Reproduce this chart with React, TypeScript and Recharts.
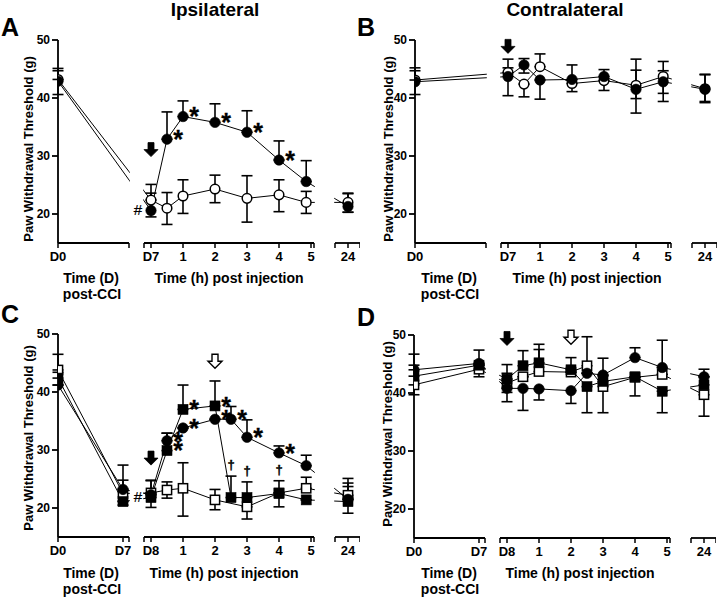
import React from 'react';
import {
  ComposedChart,
  Line,
  XAxis,
  YAxis,
  ErrorBar,
  ReferenceArea,
  ReferenceLine,
  ReferenceDot,
} from 'recharts';

const FONT = '"Liberation Sans", Arial, Helvetica, sans-serif';

// ---------- broken x-axis layout (units = px to the right of the y axis) ----------
const DAY_STEP = 65 / 7;
const HOUR0 = 93;
const HOUR_STEP = 32;
const POS_24 = 290;
const SEGMENTS: [number, number][] = [
  [0, 71],
  [86, 256],
  [277, 302],
];
const X_MAX = 302;
const xPos = (unit: string, t: number) =>
  unit === 'd' ? t * DAY_STEP : t >= 24 ? POS_24 : HOUR0 + t * HOUR_STEP;

// ---------- tick labels ----------
const tickUnitsAB = ['d', 'h', 'h', 'h', 'h', 'h', 'h', 'h'];
const tickTimesAB = [0, 0, 1, 2, 3, 4, 5, 24];
const tickLabelsAB = ['D0', 'D7', '1', '2', '3', '4', '5', '24'];
const tickUnitsCD = ['d', 'd', 'h', 'h', 'h', 'h', 'h', 'h', 'h'];
const tickTimesCD = [0, 7, 0, 1, 2, 3, 4, 5, 24];
const tickLabelsCD = ['D0', 'D7', 'D8', '1', '2', '3', '4', '5', '24'];
const yTicks = [20, 30, 40, 50];

// ---------- time points ----------
const abUnit = ['d', 'h', 'h', 'h', 'h', 'h', 'h', 'h', 'h'];
const abTime = [0, 0, 0.5, 1, 2, 3, 4, 4.85, 24];
const cdUnit = ['d', 'd', 'h', 'h', 'h', 'h', 'h', 'h', 'h', 'h', 'h'];
const cdTime = [0, 7, 0, 0.5, 1, 2, 2.5, 3, 4, 4.85, 24];
const cOpenUnit = ['d', 'd', 'h', 'h', 'h', 'h', 'h', 'h', 'h', 'h'];
const cOpenTime = [0, 7, 0, 0.5, 1, 2, 3, 4, 4.85, 24];

// ---------- Panel A (ipsilateral) ----------
const aFilled = [42.9, 20.6, 32.9, 36.8, 35.8, 34.1, 29.3, 25.6, 21.3];
const aFilledErr: [number, number][] = [[2.3, 1.8], [1.1, 3.0], [0, 4.7], [0, 2.7], [0, 3.2], [0, 3.7], [0, 3.3], [0, 3.6], [1.0, 2.2]];
const aFilledMarks = ['', '#', '*', '*', '*', '*', '*', '', ''];
const aOpen = [43.2, 22.4, 21.0, 23.1, 24.3, 22.7, 23.3, 22.0, 22.0];
const aOpenErr: [number, number][] = [[0, 1.9], [0, 2.7], [2.8, 2.7], [3.0, 2.8], [2.35, 2.4], [4.1, 3.9], [2.9, 2.6], [1.9, 1.9], [1.7, 1.6]];

// ---------- Panel B (contralateral) ----------
const bFilled = [42.8, 43.7, 45.7, 43.1, 43.2, 43.7, 41.5, 42.8, 41.5];
const bFilledErr: [number, number][] = [[2.2, 1.9], [3.3, 1.5], [1.4, 1.1], [3.3, 0], [0, 2.5], [0, 1.2], [4.1, 3.3], [3.4, 1.9], [2.3, 2.5]];
const bOpen = [43.1, 44.4, 42.4, 45.4, 42.5, 43.0, 42.2, 43.7, 41.6];
const bOpenErr: [number, number][] = [[0, 2.1], [0, 2.3], [2.2, 0], [0, 2.2], [1.4, 0], [1.7, 0], [2.3, 4.5], [2.9, 2.6], [2.2, 2.5]];

// ---------- Panel C (ipsilateral, two injections) ----------
const cCircle = [41.2, 23.2, 22.3, 31.6, 33.8, 35.3, 35.3, 32.2, 29.5, 27.3, 21.5];
const cCircleErr: [number, number][] = [[0, 0], [0, 1.6], [0, 2.5], [0, 1.3], [0, 0], [0, 0], [0, 2.2], [0, 3.0], [0, 1.2], [0, 1.8], [0, 2.8]];
const cCircleMarks = ['', '', '', '*', '*', '*', '*', '*', '*', '', ''];
const cSquare = [42.4, 21.1, 21.8, 29.9, 37.0, 37.6, 21.8, 21.8, 22.5, 21.4, 21.1];
const cSquareErr: [number, number][] = [[0, 1.0], [0.6, 0], [1.7, 0], [0, 3.0], [0, 4.2], [0, 4.3], [0, 3.7], [0, 2.7], [2.3, 2.2], [0, 0], [2.0, 2.6]];
const cSquareMarks = ['', '', '#', '*', '*', '*', '†', '†', '†', '', ''];
const cOpen = [43.8, 22.5, 22.6, 23.1, 23.4, 21.4, 20.2, 22.6, 23.4, 22.2];
const cOpenErr: [number, number][] = [[0, 2.7], [1.3, 4.9], [0, 2.1], [1.4, 1.4], [4.8, 4.4], [1.7, 1.8], [2.1, 0], [0, 0], [0, 1.9], [0, 2.9]];

// ---------- Panel D (contralateral, two injections) ----------
const dCircle = [44.0, 45.1, 40.8, 40.8, 40.7, 40.4, 43.4, 43.1, 46.1, 44.4, 42.8];
const dCircleErr: [number, number][] = [[0, 2.7], [0, 2.3], [2.3, 0], [3.8, 0], [1.9, 0], [2.2, 0], [0, 0], [0, 2.9], [0, 1.7], [0, 4.7], [0, 1.3]];
const dSquare = [42.9, 44.8, 42.4, 44.7, 45.2, 44.0, 41.1, 42.0, 42.8, 40.3, 41.4];
const dSquareErr: [number, number][] = [[0, 1.9], [0, 0], [0, 2.5], [0, 2.6], [0, 3.2], [0, 2.1], [4.5, 0], [0, 1.0], [3.3, 0], [3.7, 0], [0, 1.4]];
const dOpen = [41.4, 44.1, 41.7, 42.8, 43.7, 43.6, 44.7, 41.1, 42.7, 43.2, 39.7];
const dOpenErr: [number, number][] = [[1.7, 0], [1.3, 0], [1.6, 1.7], [0, 0], [0, 3.8], [0, 0], [0, 5.0], [4.5, 0], [0, 0], [0, 0], [3.7, 0]];

const noMarks = (n: number) => new Array(n).fill('');

type Series = {
  id: string;
  marker: 'circle' | 'square';
  filled: boolean;
  unit: string[];
  time: number[];
  values: number[];
  err: [number, number][];
  marks: string[];
};
type Arrow = { unit: string; t: number; level: number; filled: boolean };

const seriesA: Series[] = [
  { id: 'aOpen', marker: 'circle', filled: false, unit: abUnit, time: abTime, values: aOpen, err: aOpenErr, marks: noMarks(9) },
  { id: 'aFilled', marker: 'circle', filled: true, unit: abUnit, time: abTime, values: aFilled, err: aFilledErr, marks: aFilledMarks },
];
const seriesB: Series[] = [
  { id: 'bOpen', marker: 'circle', filled: false, unit: abUnit, time: abTime, values: bOpen, err: bOpenErr, marks: noMarks(9) },
  { id: 'bFilled', marker: 'circle', filled: true, unit: abUnit, time: abTime, values: bFilled, err: bFilledErr, marks: noMarks(9) },
];
const seriesC: Series[] = [
  { id: 'cOpen', marker: 'square', filled: false, unit: cOpenUnit, time: cOpenTime, values: cOpen, err: cOpenErr, marks: noMarks(10) },
  { id: 'cCircle', marker: 'circle', filled: true, unit: cdUnit, time: cdTime, values: cCircle, err: cCircleErr, marks: cCircleMarks },
  { id: 'cSquare', marker: 'square', filled: true, unit: cdUnit, time: cdTime, values: cSquare, err: cSquareErr, marks: cSquareMarks },
];
const seriesD: Series[] = [
  { id: 'dOpen', marker: 'square', filled: false, unit: cdUnit, time: cdTime, values: dOpen, err: dOpenErr, marks: noMarks(11) },
  { id: 'dCircle', marker: 'circle', filled: true, unit: cdUnit, time: cdTime, values: dCircle, err: dCircleErr, marks: noMarks(11) },
  { id: 'dSquare', marker: 'square', filled: true, unit: cdUnit, time: cdTime, values: dSquare, err: dSquareErr, marks: noMarks(11) },
];

const arrowsA: Arrow[] = [{ unit: 'h', t: 0, level: 31.1, filled: true }];
const arrowsB: Arrow[] = [{ unit: 'h', t: 0, level: 48.9, filled: true }];
const arrowsC: Arrow[] = [
  { unit: 'h', t: 0, level: 28.6, filled: true },
  { unit: 'h', t: 2, level: 45.3, filled: false },
];
const arrowsD: Arrow[] = [
  { unit: 'h', t: 0, level: 49.4, filled: true },
  { unit: 'h', t: 2, level: 49.6, filled: false },
];

const makeDot = (s: Series) => (p: any) => {
  const { cx, cy, index } = p;
  const key = `${s.id}-dot-${index}`;
  if (cx == null || cy == null || Number.isNaN(cx) || Number.isNaN(cy)) return <g key={key} />;
  if (s.marker === 'circle') {
    return s.filled ? (
      <circle key={key} cx={cx} cy={cy} r={5.2} fill="#000" stroke="#000" strokeWidth={0.6} />
    ) : (
      <circle key={key} cx={cx} cy={cy} r={4.8} fill="#fff" stroke="#000" strokeWidth={1.5} />
    );
  }
  return s.filled ? (
    <rect key={key} x={cx - 5} y={cy - 5} width={10} height={10} fill="#000" stroke="#000" strokeWidth={0.6} />
  ) : (
    <rect key={key} x={cx - 4.6} y={cy - 4.6} width={9.2} height={9.2} fill="#fff" stroke="#000" strokeWidth={1.5} />
  );
};

const arrowShape = (filled: boolean) => (p: any) => {
  const { cx, cy } = p;
  const d = `M${cx - 3} ${cy - 7} H${cx + 3} V${cy} H${cx + 7} L${cx} ${cy + 7} L${cx - 7} ${cy} H${cx - 3} Z`;
  return <path d={d} fill={filled ? '#000' : '#fff'} stroke="#000" strokeWidth={filled ? 0.8 : 1.4} />;
};

const markShape = (m: string) => (p: any) => {
  const { cx, cy } = p;
  if (m === '*')
    return (
      <text x={cx + 11} y={cy + 8.8} textAnchor="middle" fontSize={25} fontWeight={700} fontFamily={FONT} fill="#000" stroke="#000" strokeWidth={0.3}>
        *
      </text>
    );
  if (m === '#')
    return (
      <text x={cx - 13} y={cy + 4.4} textAnchor="middle" fontSize={15} fontFamily={FONT} fill="#000" stroke="#000" strokeWidth={0.2}>
        #
      </text>
    );
  return (
    <text
      x={cx}
      y={cy - 7.2}
      textAnchor="middle"
      fontSize={13}
      fontWeight={700}
      fontFamily={FONT}
      fill="#000"
      stroke="#000"
      strokeWidth={0.4}
    >
      {m}
    </text>
  );
};

function Panel({
  series,
  tickUnits,
  tickTimes,
  tickLabels,
  arrows,
}: {
  series: Series[];
  tickUnits: string[];
  tickTimes: number[];
  tickLabels: string[];
  arrows: Arrow[];
}) {
  const round = (v: number) => Math.round(v * 100) / 100;
  const labelMap = new Map<number, string>();
  tickUnits.forEach((u, i) => labelMap.set(round(xPos(u, tickTimes[i])), tickLabels[i]));
  const allTicks = Array.from(
    new Set([...tickUnits.map((u, i) => round(xPos(u, tickTimes[i]))), ...SEGMENTS.flat()])
  ).sort((a, b) => a - b);
  const gaps = SEGMENTS.slice(1).map((s, i) => [SEGMENTS[i][1], s[0]]);

  return (
    <ComposedChart width={360} height={300} margin={{ top: 40, right: 0, bottom: 27, left: 0 }}>
      <XAxis
        type="number"
        dataKey="x"
        domain={[0, X_MAX]}
        ticks={allTicks}
        interval={0}
        allowDataOverflow
        axisLine={false}
        tickLine={{ stroke: '#000', strokeWidth: 1.5 }}
        tickSize={5}
        tickMargin={4}
        height={30}
        tick={{ fill: '#000', fontSize: 13, fontWeight: 700, fontFamily: FONT }}
        tickFormatter={(v: number) => labelMap.get(round(v)) ?? ''}
      />
      <YAxis
        type="number"
        domain={[15, 50]}
        ticks={yTicks}
        interval={0}
        allowDataOverflow
        width={58}
        axisLine={{ stroke: '#000', strokeWidth: 1.8 }}
        tickLine={{ stroke: '#000', strokeWidth: 1.8 }}
        tickSize={6}
        tick={{ fill: '#000', fontSize: 12, fontWeight: 700, fontFamily: FONT }}
      />
      {series.map((s) => (
        <Line
          key={s.id}
          data={s.values.map((v, i) => ({ x: xPos(s.unit[i], s.time[i]), v, e: s.err[i] }))}
          dataKey="v"
          type="linear"
          stroke="#000"
          strokeWidth={1}
          dot={makeDot(s)}
          activeDot={false}
          isAnimationActive={false}
          legendType="none"
        >
          <ErrorBar dataKey="e" direction="y" width={5.5} stroke="#000" strokeWidth={1.6} />
        </Line>
      ))}
      {gaps.map(([a, b], i) => (
        <ReferenceArea
          key={`gap-${i}`}
          x1={a + 0.8}
          x2={b - 0.8}
          fill="#fff"
          fillOpacity={1}
          stroke="none"
          ifOverflow="visible"
          zIndex={1500}
        />
      ))}
      {SEGMENTS.map(([a, b], i) => (
        <ReferenceLine
          key={`seg-${i}`}
          segment={[
            { x: a, y: 15 },
            { x: b, y: 15 },
          ]}
          stroke="#000"
          strokeWidth={1.8}
          ifOverflow="visible"
          zIndex={1600}
        />
      ))}
      {series.flatMap((s) =>
        s.marks.map((m, i) => {
          if (!m) return null;
          const x = xPos(s.unit[i], s.time[i]);
          const y = m === '†' ? s.values[i] + s.err[i][1] : s.values[i];
          return (
            <ReferenceDot
              key={`${s.id}-mark-${i}`}
              x={x}
              y={y}
              r={1}
              ifOverflow="visible"
              zIndex={1700}
              shape={markShape(m)}
            />
          );
        })
      )}
      {arrows.map((a, i) => (
        <ReferenceDot
          key={`arrow-${i}`}
          x={xPos(a.unit, a.t)}
          y={a.level}
          r={1}
          ifOverflow="visible"
          zIndex={1700}
          shape={arrowShape(a.filled)}
        />
      ))}
    </ComposedChart>
  );
}

const txt = (
  x: number,
  y: number,
  s: string,
  size: number,
  anchor: 'start' | 'middle' | 'end' = 'middle'
) => (
  <text key={`${s}-${x}-${y}`} x={x} y={y} textAnchor={anchor} fontSize={size} fontWeight={700} fontFamily={FONT} fill="#000">
    {s}
  </text>
);

const yLabel = (x: number, y: number) => (
  <text
    key={`yl-${x}-${y}`}
    x={x}
    y={y}
    transform={`rotate(-90 ${x} ${y})`}
    textAnchor="middle"
    dominantBaseline="central"
    fontSize={13}
    fontWeight={700}
    fontFamily={FONT}
    fill="#000"
  >
    Paw Withdrawal Threshold (g)
  </text>
);

export default function App() {
  return (
    <div style={{ position: 'absolute', left: 0, top: 0, width: 720, height: 597, background: '#fff', overflow: 'hidden' }}>
      <div style={{ position: 'absolute', left: 0, top: 0 }}>
        <Panel series={seriesA} tickUnits={tickUnitsAB} tickTimes={tickTimesAB} tickLabels={tickLabelsAB} arrows={arrowsA} />
      </div>
      <div style={{ position: 'absolute', left: 357, top: 0 }}>
        <Panel series={seriesB} tickUnits={tickUnitsAB} tickTimes={tickTimesAB} tickLabels={tickLabelsAB} arrows={arrowsB} />
      </div>
      <div style={{ position: 'absolute', left: 0, top: 294 }}>
        <Panel series={seriesC} tickUnits={tickUnitsCD} tickTimes={tickTimesCD} tickLabels={tickLabelsCD} arrows={arrowsC} />
      </div>
      <div style={{ position: 'absolute', left: 356, top: 295 }}>
        <Panel series={seriesD} tickUnits={tickUnitsCD} tickTimes={tickTimesCD} tickLabels={tickLabelsCD} arrows={arrowsD} />
      </div>
      <svg width={720} height={597} style={{ position: 'absolute', left: 0, top: 0, pointerEvents: 'none' }}>
        {txt(215, 16, 'Ipsilateral', 19)}
        {txt(565, 16, 'Contralateral', 19)}
        {txt(1, 36, 'A', 25, 'start')}
        {txt(357, 36, 'B', 25, 'start')}
        {txt(1, 323, 'C', 25, 'start')}
        {txt(357, 326, 'D', 25, 'start')}
        {yLabel(28, 149)}
        {yLabel(388, 149)}
        {yLabel(28, 438)}
        {yLabel(387, 434)}
        {txt(91, 283, 'Time (D)', 14)}
        {txt(92, 299, 'post-CCI', 14)}
        {txt(229, 283, 'Time (h) post injection', 14)}
        {txt(449, 283, 'Time (D)', 14)}
        {txt(450, 299, 'post-CCI', 14)}
        {txt(587, 283, 'Time (h) post injection', 14)}
        {txt(91, 578, 'Time (D)', 14)}
        {txt(92, 594, 'post-CCI', 14)}
        {txt(224, 578, 'Time (h) post injection', 14)}
        {txt(449, 578, 'Time (D)', 14)}
        {txt(450, 594, 'post-CCI', 14)}
        {txt(580, 578, 'Time (h) post injection', 14)}
      </svg>
    </div>
  );
}
